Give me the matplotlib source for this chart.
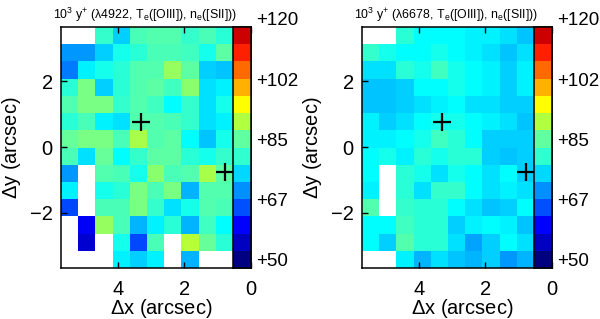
#!/usr/bin/env python
"""
Two maps of the y+ abundance with a stepped colour bar in each panel.
"""

import numpy as np
import matplotlib
matplotlib.use("Agg")
import matplotlib.pyplot as plt
from matplotlib.colors import LinearSegmentedColormap, ListedColormap

n = np.nan

Y_4922 = [
    [n, n, 83, 77, 85, 86, 86, 83, 85, 82],
    [73, 73, 77, 81, 82, 85, 85, 84, 81, 87],
    [71, 79, 81, 82, 86, 86, 91, 87, 77, 76],
    [82, 89, 77, 82, 86, 87, 84, 90, 78, 79],
    [86, 89, 89, 83, 86, 84, 80, 83, 78, 81],
    [82, 85, 79, 78, 86, 86, 85, 83, 78, 79],
    [88, 89, 89, 85, 92, 86, 87, 80, 76, 81],
    [85, 78, 88, 80, 83, 87, 87, 82, 81, 83],
    [73, n, 86, 85, 81, 90, 85, 86, 92, 87],
    [79, n, 81, 82, 89, 85, 89, 75, 86, 86],
    [67, n, 85, 85, 89, 83, 78, 81, 86, 85],
    [n, 62, 91, 85, 75, 79, 82, 75, 84, 80],
    [n, 59, n, 81, 67, 85, n, 93, 88, 82],
    [n, n, n, 79, 77, 79, n, 75, n, n],
]

Y_6678 = [
    [n, n, 82, 80, 80, 80, 79, 79, 78, 76],
    [83, 81, 80, 80, 81, 80, 79, 78, 76, 78],
    [78, 78, 82, 81, 84, 81, 80, 79, 77, 79],
    [76, 76, 77, 80, 80, 81, 80, 79, 77, 79],
    [76, 76, 77, 78, 79, 80, 78, 78, 77, 77],
    [79, 77, 78, 80, 81, 81, 80, 79, 78, 76],
    [79, 79, 80, 81, 84, 82, 80, 77, 77, 77],
    [80, 81, 79, 82, 81, 82, 82, 77, 76, 77],
    [80, n, 82, 81, 78, 81, 80, 78, 80, 77],
    [79, n, 82, 78, 83, 83, 80, 78, 79, 78],
    [86, n, 83, 82, 82, 80, 78, 76, 77, 80],
    [80, 80, 84, 82, 82, 77, 79, 80, 79, 76],
    [80, 77, 86, 82, 82, 78, 74, 77, 80, 78],
    [n, n, 79, 75, 78, 76, 75, 77, 73, 75],
]

TITLES = [r"10$^{3}$ y$^{+}$ ($\lambda$4922, T$_{e}$([OIII]), n$_{e}$([SII]))",
          r"10$^{3}$ y$^{+}$ ($\lambda$6678, T$_{e}$([OIII]), n$_{e}$([SII]))"]
CROSS_X = [3.3, 0.76]
CROSS_Y = [0.76, -0.76]
BAR_LEVELS = [50, 55, 60, 65, 70, 75, 80, 85, 90, 95, 100, 105, 110, 115, 120]
BAR_COLORS = ['#000080', '#0000c0', '#0000ff', '#0050ff', '#0090ff',
              '#00d8ff', '#30ffd0', '#60ffa0', '#b0ff40', '#ffff00',
              '#ffb000', '#ff6a00', '#ff2000', '#cc0000']
BAR_TICKS = [50, 67.5, 85, 102.5, 120]
BAR_LABELS = ["+50", "+67", "+85", "+102", "+120"]
X_TICKS = [4, 2, 0]
Y_TICKS = [2, 0, -2]

plt.rcParams['font.family'] = ['Liberation Sans', 'DejaVu Sans']
plt.rcParams['mathtext.fontset'] = 'custom'
plt.rcParams['mathtext.rm'] = 'Liberation Sans'
plt.rcParams['mathtext.default'] = 'regular'

W, H = 600, 319
XLIM = (5.73, 0)
YLIM = (-3.67, 3.64)
CELL = 0.52
AX_WIDTH = 189.5
BAR_WIDTH = 18

# cells: interpolate between the middles of the bar steps, pure cyan at 80
levels = np.array(BAR_LEVELS, dtype=float)
mids = (levels[:-1] + levels[1:]) / 2
stops = [(0, BAR_COLORS[0])] + list(zip((mids - 50) / 70, BAR_COLORS))
stops += [(1, BAR_COLORS[-1]), ((80 - 50) / 70, '#00ffff')]
smooth = LinearSegmentedColormap.from_list('smooth', sorted(stops))
stepped = ListedColormap(BAR_COLORS)


def draw_panel(fig, left, values, title):
    ax = fig.add_axes([left / W, 1 - 268 / H, AX_WIDTH / W, 241 / H])

    x_edges = XLIM[0] - CELL * np.arange(11)
    y_edges = np.linspace(YLIM[1], YLIM[0], 15)
    ax.pcolormesh(x_edges, y_edges, np.array(values, dtype=float),
                  cmap=smooth, vmin=50, vmax=120)
    ax.plot(CROSS_X, CROSS_Y, '+', color='k', ms=12.5, mew=1.6, zorder=5)

    ax.set_xlim(XLIM)
    ax.set_ylim(YLIM)
    ax.set_xticks(X_TICKS)
    ax.set_yticks(Y_TICKS)
    ax.set_yticklabels(['2', '0', '\u22122'])
    ax.tick_params(direction='in', length=4.5, width=1, labelsize=14.5,
                   top=True, right=False, pad=6)
    ax.tick_params(axis='x', pad=8.5)
    ax.set_xlabel(r"$\Delta$x (arcsec)", fontsize=14.5)
    ax.set_ylabel(r"$\Delta$y (arcsec)", fontsize=14.5)
    ax.xaxis.set_label_coords(0.53, -0.122)
    ax.yaxis.set_label_coords(-0.2, 0.5)
    ax.set_title(title, fontsize=8.9, pad=6, x=0.445)
    for spine in ax.spines.values():
        spine.set_linewidth(1.1)

    # the colour bar sits inside the frame, on its right end
    cax = ax.inset_axes([1 - BAR_WIDTH / AX_WIDTH, 0, BAR_WIDTH / AX_WIDTH, 1])
    cax.pcolormesh([0, 1], levels, mids.reshape(-1, 1),
                   cmap=stepped, vmin=50, vmax=120)
    cax.set_xticks([])
    cax.set_yticks([])
    cax.set_ylim(50, 120)
    for spine in cax.spines.values():
        spine.set_linewidth(1.1)
    for tick, label in zip(BAR_TICKS, BAR_LABELS):
        cax.annotate(label, xy=(1, tick), xycoords=('axes fraction', 'data'),
                     xytext=(4, 4.5), textcoords='offset points',
                     va='center', ha='left', fontsize=13.5)


fig = plt.figure(figsize=(W / 100, H / 100), dpi=100)
draw_panel(fig, 61, Y_4922, TITLES[0])
draw_panel(fig, 362, Y_6678, TITLES[1])
fig.savefig('out.png', dpi=100)
